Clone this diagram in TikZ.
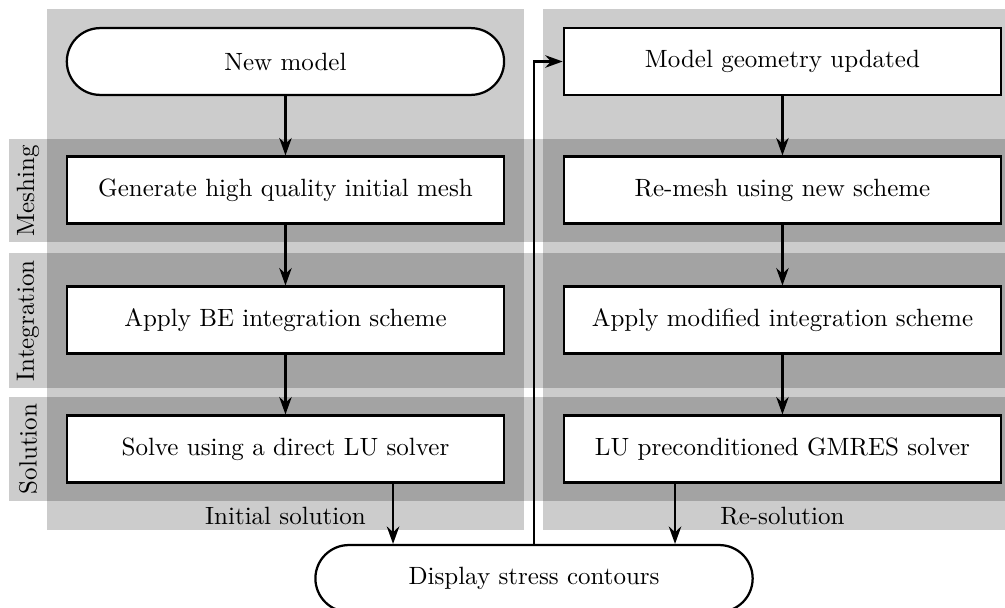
\documentclass[tikz,border=0pt]{standalone}
\usetikzlibrary{arrows.meta}
\tikzset{
  stage/.style={draw,line width=0.9pt,fill=white,minimum width=6.15cm,minimum height=0.94cm},
  term/.style={stage,rounded corners=0.47cm},
  band/.style={fill=black,opacity=0.2},
  flow/.style={-{Stealth[length=7pt,width=5pt]},line width=0.9pt},
}
\begin{document}
\begin{tikzpicture}
        \useasboundingbox (0,0) rectangle (14.135,-8.551);

        \fill[band] (0.661,-0.127) rectangle (7.370,-7.461); %initial
        \fill[band] (7.637,-0.127) rectangle (14.135,-7.461); %re-solution
        \fill[band] (0.127,-1.955) rectangle (14.135,-3.404); %meshing
        \fill[band] (0.127,-3.558) rectangle (14.135,-5.457); %integration
        \fill[band] (0.127,-5.584) rectangle (14.135,-7.046); %solution

        \node[rotate=90] at (0.394,-2.68) (lmesh){Meshing};
        \node[rotate=90] at (0.394,-4.51) (lint){Integration};
        \node[rotate=90] at (0.394,-6.315) (lsol){Solution};
        \node[] at (4.015,-7.257) (linit){Initial solution};
        \node[] at (11.005,-7.257) (lre){Re-solution};

        \node[term] at (4.015,-0.865) (new){New model};
        \node[stage] at (4.015,-2.672) (mesh1){Generate high quality initial mesh};
        \node[stage] at (4.015,-4.501) (int1){Apply BE integration scheme};
        \node[stage] at (4.015,-6.315) (sol1){Solve using a direct LU solver};

        \node[stage] at (11.005,-0.865) (geo){Model geometry updated};
        \node[stage] at (11.005,-2.672) (mesh2){Re-mesh using new scheme};
        \node[stage] at (11.005,-4.501) (int2){Apply modified integration scheme};
        \node[stage] at (11.005,-6.315) (sol2){LU preconditioned GMRES solver};

        \node[term] at (7.511,-8.136) (show){Display stress contours};
        \coordinate (in1) at ([xshift=-1.983cm]show.north);
        \coordinate (in2) at ([xshift=1.983cm]show.north);

        \draw[flow] (new) -- (mesh1);
        \draw[flow] (mesh1) -- (int1);
        \draw[flow] (int1) -- (sol1);
        \draw[flow] (sol1.south -| in1) -- (in1); %initial-display
        \draw[flow] (show.north) |- (geo.west); %loop back
        \draw[flow] (geo) -- (mesh2);
        \draw[flow] (mesh2) -- (int2);
        \draw[flow] (int2) -- (sol2);
        \draw[flow] (sol2.south -| in2) -- (in2); %re-solution-display
    \end{tikzpicture}
\end{document}
